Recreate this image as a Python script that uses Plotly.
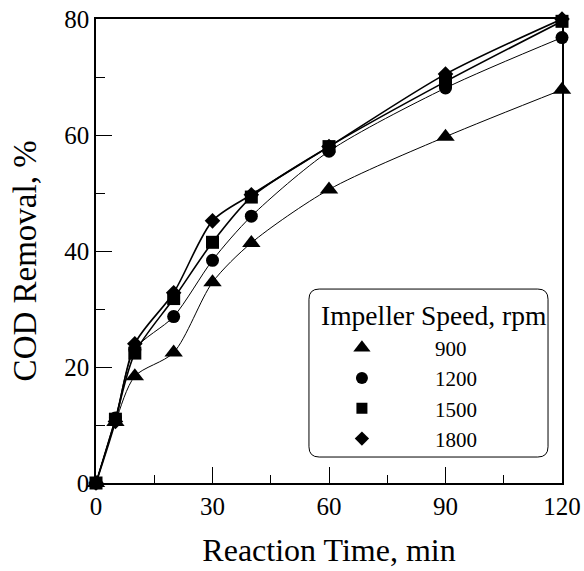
import plotly.graph_objects as go

time_min = [0, 5, 10, 20, 30, 40, 60, 90, 120]
speeds = ["900", "1200", "1500", "1800"]
cod_900 = [0, 10.5, 18.4, 22.5, 34.6, 41.4, 50.6, 59.7, 67.8]
cod_1200 = [0, 11.2, 23.0, 28.7, 38.4, 46.0, 57.2, 68.1, 76.8]
cod_1500 = [0, 11.0, 22.4, 31.8, 41.5, 49.3, 58.0, 69.2, 79.6]
cod_1800 = [0, 10.6, 24.0, 32.8, 45.2, 49.7, 58.0, 70.5, 80.0]
x_ticks = [0, 30, 60, 90, 120]
y_ticks = [0, 20, 40, 60, 80]

FONT = "Liberation Serif"
series = [
    (speeds[0], cod_900, "triangle-up", 16, 15, 1.0),
    (speeds[1], cod_1200, "circle", 13, 12, 1.0),
    (speeds[2], cod_1500, "square", 13, 11, 1.6),
    (speeds[3], cod_1800, "diamond", 12, 11, 1.6),
]

fig = go.Figure()
for name, vals, sym, size, lsize, lw in series:
    fig.add_trace(go.Scatter(
        x=time_min, y=vals, name=name, mode="lines+markers", showlegend=False,
        line=dict(color="black", width=lw, shape="spline", smoothing=0.8),
        marker=dict(symbol=sym, size=size, color="black"),
        cliponaxis=False,
    ))
for name, vals, sym, size, lsize, lw in series:
    fig.add_trace(go.Scatter(
        x=[None], y=[None], name=name, mode="markers", showlegend=True,
        marker=dict(symbol=sym, size=lsize, color="black"),
    ))

# rounded legend frame (paper coordinates)
x0, x1, y0, y1 = 0.457, 0.970, 0.056, 0.418
rx, ry = 0.022, 0.022
path = (f"M {x0+rx},{y0} L {x1-rx},{y0} Q {x1},{y0} {x1},{y0+ry} "
        f"L {x1},{y1-ry} Q {x1},{y1} {x1-rx},{y1} L {x0+rx},{y1} "
        f"Q {x0},{y1} {x0},{y1-ry} L {x0},{y0+ry} Q {x0},{y0} {x0+rx},{y0} Z")
fig.add_shape(type="path", path=path, xref="paper", yref="paper",
              line=dict(color="black", width=1), fillcolor="white", layer="above")
fig.add_annotation(text="Impeller Speed, rpm", xref="paper", yref="paper",
                   x=0.478, y=0.36, xanchor="left", yanchor="middle", showarrow=False,
                   font=dict(family=FONT, size=27.5, color="black"))
# y-axis title
fig.add_annotation(text="COD Removal, %", xref="paper", yref="paper",
                   x=-0.152, y=0.478, xanchor="center", yanchor="middle",
                   textangle=-90, showarrow=False,
                   font=dict(family=FONT, size=33, color="black"))

axis_common = dict(
    showline=True, linecolor="black", linewidth=1.5, mirror=True,
    ticks="inside", ticklen=16, tickwidth=1, tickcolor="black",
    showgrid=False, zeroline=False, automargin=False,
    ticklabeloverflow="allow",
    tickfont=dict(family=FONT, size=25, color="black"),
)
fig.update_xaxes(
    range=[0, 120], tickvals=x_ticks,
    minor=dict(ticks="inside", ticklen=8, dtick=15, tickcolor="black", showgrid=False),
    title=dict(text="Reaction Time, min", font=dict(family=FONT, size=32, color="black"), standoff=20),
    **axis_common,
)
fig.update_yaxes(
    range=[0, 80], tickvals=y_ticks,
    minor=dict(ticks="inside", ticklen=9, dtick=10, tickcolor="black", showgrid=False),
    **axis_common,
)

fig.update_layout(
    width=584, height=571,
    margin=dict(l=96, r=22, t=19, b=88),
    paper_bgcolor="white", plot_bgcolor="white",
    font=dict(family=FONT, color="black"),
    legend=dict(
        x=0.414, y=0.335, xanchor="left", yanchor="top",
        bgcolor="rgba(0,0,0,0)", borderwidth=0,
        font=dict(family=FONT, size=21), itemwidth=136, tracegroupgap=0,
    ),
    showlegend=True,
)
fig.write_html("out.html", config={"displayModeBar": False},
               post_script="document.body.style.margin='0';")
